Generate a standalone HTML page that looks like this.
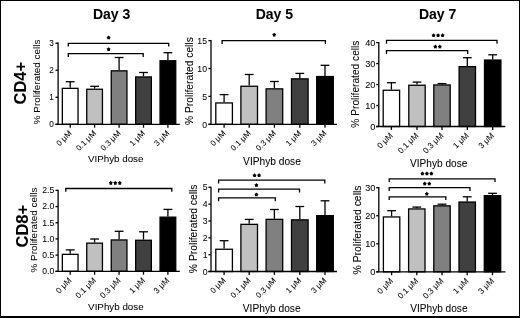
<!DOCTYPE html>
<html><head><meta charset="utf-8"><style>
html,body{margin:0;padding:0;background:#fff;}
body{width:520px;height:318px;overflow:hidden;position:relative;}
svg{position:absolute;left:0;top:0;display:block;filter:blur(0.35px);}
svg text{stroke:#000;stroke-width:0.05px;}
.frame{position:absolute;left:0;top:0;width:518px;height:315px;border:1px solid #000;border-bottom-width:2px;}
</style></head><body>
<svg width="520" height="318" viewBox="0 0 520 318" font-family="'Liberation Sans', sans-serif" fill="#000" stroke="#000" stroke-width="1.30" stroke-linecap="butt">
<line x1="70.20" y1="87.70" x2="70.20" y2="81.70"/>
<line x1="65.80" y1="81.70" x2="74.60" y2="81.70"/>
<rect x="62.35" y="88.35" width="15.70" height="35.95" fill="#ffffff"/>
<line x1="94.60" y1="88.60" x2="94.60" y2="86.30"/>
<line x1="90.20" y1="86.30" x2="99.00" y2="86.30"/>
<rect x="86.75" y="89.25" width="15.70" height="35.05" fill="#c0c0c0"/>
<line x1="119.10" y1="70.20" x2="119.10" y2="57.50"/>
<line x1="114.70" y1="57.50" x2="123.50" y2="57.50"/>
<rect x="111.25" y="70.85" width="15.70" height="53.45" fill="#808080"/>
<line x1="143.50" y1="76.30" x2="143.50" y2="72.50"/>
<line x1="139.10" y1="72.50" x2="147.90" y2="72.50"/>
<rect x="135.65" y="76.95" width="15.70" height="47.35" fill="#404040"/>
<line x1="167.90" y1="60.10" x2="167.90" y2="52.70"/>
<line x1="163.50" y1="52.70" x2="172.30" y2="52.70"/>
<rect x="160.05" y="60.75" width="15.70" height="63.55" fill="#000000"/>
<line x1="58.10" y1="42.55" x2="58.10" y2="124.30"/>
<line x1="55.50" y1="124.30" x2="179.80" y2="124.30"/>
<line x1="55.50" y1="124.30" x2="58.10" y2="124.30"/>
<text x="53.90" y="127.25" font-size="8.2" text-anchor="end" stroke="none">0</text>
<line x1="55.50" y1="97.27" x2="58.10" y2="97.27"/>
<text x="53.90" y="100.22" font-size="8.2" text-anchor="end" stroke="none">1</text>
<line x1="55.50" y1="70.23" x2="58.10" y2="70.23"/>
<text x="53.90" y="73.19" font-size="8.2" text-anchor="end" stroke="none">2</text>
<line x1="55.50" y1="43.20" x2="58.10" y2="43.20"/>
<text x="53.90" y="46.15" font-size="8.2" text-anchor="end" stroke="none">3</text>
<line x1="70.20" y1="124.30" x2="70.20" y2="127.70"/>
<text x="0" y="0" font-size="8.0" text-anchor="end" stroke="none" transform="translate(72.20 133.90) rotate(-45)">0 μM</text>
<line x1="94.60" y1="124.30" x2="94.60" y2="127.70"/>
<text x="0" y="0" font-size="8.0" text-anchor="end" stroke="none" transform="translate(96.60 133.90) rotate(-45)">0.1 μM</text>
<line x1="119.10" y1="124.30" x2="119.10" y2="127.70"/>
<text x="0" y="0" font-size="8.0" text-anchor="end" stroke="none" transform="translate(121.10 133.90) rotate(-45)">0.3 μM</text>
<line x1="143.50" y1="124.30" x2="143.50" y2="127.70"/>
<text x="0" y="0" font-size="8.0" text-anchor="end" stroke="none" transform="translate(145.50 133.90) rotate(-45)">1 μM</text>
<line x1="167.90" y1="124.30" x2="167.90" y2="127.70"/>
<text x="0" y="0" font-size="8.0" text-anchor="end" stroke="none" transform="translate(169.90 133.90) rotate(-45)">3 μM</text>
<polyline fill="none" points="68.30,46.60 68.30,43.30 168.70,43.30 168.70,46.60"/>
<polygon points="108.60,36.45 109.06,36.97 109.69,37.24 109.34,37.84 109.28,38.53 108.60,38.38 107.92,38.53 107.86,37.84 107.51,37.24 108.14,36.97"/>
<polyline fill="none" points="68.30,56.90 68.30,53.60 143.20,53.60 143.20,56.90"/>
<polygon points="108.60,48.15 109.06,48.67 109.69,48.94 109.34,49.54 109.28,50.23 108.60,50.08 107.92,50.23 107.86,49.54 107.51,48.94 108.14,48.67"/>
<text x="111.60" y="19.1" font-size="14" font-weight="bold" text-anchor="middle" stroke="none">Day 3</text>
<text x="115.70" y="162.40" font-size="9.8" text-anchor="middle" stroke="none">VIPhyb dose</text>
<text x="0" y="0" font-size="9.88" text-anchor="middle" stroke="none" transform="translate(40.30 81.90) rotate(-90)">% Proliferated cells</text>
<line x1="224.10" y1="102.30" x2="224.10" y2="94.60"/>
<line x1="219.70" y1="94.60" x2="228.50" y2="94.60"/>
<rect x="215.80" y="102.95" width="16.60" height="21.35" fill="#ffffff"/>
<line x1="249.20" y1="85.60" x2="249.20" y2="74.50"/>
<line x1="244.80" y1="74.50" x2="253.60" y2="74.50"/>
<rect x="240.90" y="86.25" width="16.60" height="38.05" fill="#c0c0c0"/>
<line x1="274.40" y1="88.20" x2="274.40" y2="81.50"/>
<line x1="270.00" y1="81.50" x2="278.80" y2="81.50"/>
<rect x="266.10" y="88.85" width="16.60" height="35.45" fill="#808080"/>
<line x1="299.80" y1="78.20" x2="299.80" y2="73.40"/>
<line x1="295.40" y1="73.40" x2="304.20" y2="73.40"/>
<rect x="291.50" y="78.85" width="16.60" height="45.45" fill="#404040"/>
<line x1="325.00" y1="75.90" x2="325.00" y2="65.30"/>
<line x1="320.60" y1="65.30" x2="329.40" y2="65.30"/>
<rect x="316.70" y="76.55" width="16.60" height="47.75" fill="#000000"/>
<line x1="211.00" y1="39.95" x2="211.00" y2="124.30"/>
<line x1="208.40" y1="124.30" x2="337.00" y2="124.30"/>
<line x1="208.40" y1="124.30" x2="211.00" y2="124.30"/>
<text x="207.00" y="127.73" font-size="8.7" text-anchor="end" stroke="none">0</text>
<line x1="208.40" y1="96.40" x2="211.00" y2="96.40"/>
<text x="207.00" y="99.83" font-size="8.7" text-anchor="end" stroke="none">5</text>
<line x1="208.40" y1="68.50" x2="211.00" y2="68.50"/>
<text x="207.00" y="71.93" font-size="8.7" text-anchor="end" stroke="none">10</text>
<line x1="208.40" y1="40.60" x2="211.00" y2="40.60"/>
<text x="207.00" y="44.03" font-size="8.7" text-anchor="end" stroke="none">15</text>
<line x1="224.10" y1="124.30" x2="224.10" y2="127.70"/>
<text x="0" y="0" font-size="8.0" text-anchor="end" stroke="none" transform="translate(226.10 133.90) rotate(-45)">0 μM</text>
<line x1="249.20" y1="124.30" x2="249.20" y2="127.70"/>
<text x="0" y="0" font-size="8.0" text-anchor="end" stroke="none" transform="translate(251.20 133.90) rotate(-45)">0.1 μM</text>
<line x1="274.40" y1="124.30" x2="274.40" y2="127.70"/>
<text x="0" y="0" font-size="8.0" text-anchor="end" stroke="none" transform="translate(276.40 133.90) rotate(-45)">0.3 μM</text>
<line x1="299.80" y1="124.30" x2="299.80" y2="127.70"/>
<text x="0" y="0" font-size="8.0" text-anchor="end" stroke="none" transform="translate(301.80 133.90) rotate(-45)">1 μM</text>
<line x1="325.00" y1="124.30" x2="325.00" y2="127.70"/>
<text x="0" y="0" font-size="8.0" text-anchor="end" stroke="none" transform="translate(327.00 133.90) rotate(-45)">3 μM</text>
<polyline fill="none" points="222.10,43.90 222.10,40.60 325.40,40.60 325.40,43.90"/>
<polygon points="274.20,33.65 274.66,34.17 275.29,34.44 274.94,35.04 274.88,35.73 274.20,35.58 273.52,35.73 273.46,35.04 273.11,34.44 273.74,34.17"/>
<text x="274.40" y="19.1" font-size="14" font-weight="bold" text-anchor="middle" stroke="none">Day 5</text>
<text x="272.00" y="164.80" font-size="10.2" text-anchor="middle" stroke="none">VIPhyb dose</text>
<text x="0" y="0" font-size="10.25" text-anchor="middle" stroke="none" transform="translate(192.50 81.10) rotate(-90)">% Proliferated cells</text>
<line x1="391.40" y1="89.60" x2="391.40" y2="82.70"/>
<line x1="387.00" y1="82.70" x2="395.80" y2="82.70"/>
<rect x="383.20" y="90.25" width="16.40" height="36.25" fill="#ffffff"/>
<line x1="417.00" y1="84.60" x2="417.00" y2="82.10"/>
<line x1="412.60" y1="82.10" x2="421.40" y2="82.10"/>
<rect x="408.80" y="85.25" width="16.40" height="41.25" fill="#c0c0c0"/>
<line x1="442.00" y1="84.30" x2="442.00" y2="83.60"/>
<line x1="437.60" y1="83.60" x2="446.40" y2="83.60"/>
<rect x="433.80" y="84.95" width="16.40" height="41.55" fill="#808080"/>
<line x1="467.30" y1="66.00" x2="467.30" y2="57.70"/>
<line x1="462.90" y1="57.70" x2="471.70" y2="57.70"/>
<rect x="459.10" y="66.65" width="16.40" height="59.85" fill="#404040"/>
<line x1="492.70" y1="59.40" x2="492.70" y2="54.80"/>
<line x1="488.30" y1="54.80" x2="497.10" y2="54.80"/>
<rect x="484.50" y="60.05" width="16.40" height="66.45" fill="#000000"/>
<line x1="378.80" y1="41.95" x2="378.80" y2="126.50"/>
<line x1="376.20" y1="126.50" x2="505.40" y2="126.50"/>
<line x1="376.20" y1="126.50" x2="378.80" y2="126.50"/>
<text x="375.40" y="129.81" font-size="9.2" text-anchor="end" stroke="none">0</text>
<line x1="376.20" y1="105.53" x2="378.80" y2="105.53"/>
<text x="375.40" y="108.84" font-size="9.2" text-anchor="end" stroke="none">10</text>
<line x1="376.20" y1="84.55" x2="378.80" y2="84.55"/>
<text x="375.40" y="87.86" font-size="9.2" text-anchor="end" stroke="none">20</text>
<line x1="376.20" y1="63.57" x2="378.80" y2="63.57"/>
<text x="375.40" y="66.89" font-size="9.2" text-anchor="end" stroke="none">30</text>
<line x1="376.20" y1="42.60" x2="378.80" y2="42.60"/>
<text x="375.40" y="45.91" font-size="9.2" text-anchor="end" stroke="none">40</text>
<line x1="391.40" y1="126.50" x2="391.40" y2="129.90"/>
<text x="0" y="0" font-size="8.2" text-anchor="end" stroke="none" transform="translate(393.40 136.10) rotate(-45)">0 μM</text>
<line x1="417.00" y1="126.50" x2="417.00" y2="129.90"/>
<text x="0" y="0" font-size="8.2" text-anchor="end" stroke="none" transform="translate(419.00 136.10) rotate(-45)">0.1 μM</text>
<line x1="442.00" y1="126.50" x2="442.00" y2="129.90"/>
<text x="0" y="0" font-size="8.2" text-anchor="end" stroke="none" transform="translate(444.00 136.10) rotate(-45)">0.3 μM</text>
<line x1="467.30" y1="126.50" x2="467.30" y2="129.90"/>
<text x="0" y="0" font-size="8.2" text-anchor="end" stroke="none" transform="translate(469.30 136.10) rotate(-45)">1 μM</text>
<line x1="492.70" y1="126.50" x2="492.70" y2="129.90"/>
<text x="0" y="0" font-size="8.2" text-anchor="end" stroke="none" transform="translate(494.70 136.10) rotate(-45)">3 μM</text>
<polyline fill="none" points="386.50,43.70 386.50,40.40 497.00,40.40 497.00,43.70"/>
<polygon points="433.60,34.25 434.06,34.77 434.69,35.04 434.34,35.64 434.28,36.33 433.60,36.18 432.92,36.33 432.86,35.64 432.51,35.04 433.14,34.77"/>
<polygon points="438.10,34.25 438.56,34.77 439.19,35.04 438.84,35.64 438.78,36.33 438.10,36.18 437.42,36.33 437.36,35.64 437.01,35.04 437.64,34.77"/>
<polygon points="442.60,34.25 443.06,34.77 443.69,35.04 443.34,35.64 443.28,36.33 442.60,36.18 441.92,36.33 441.86,35.64 441.51,35.04 442.14,34.77"/>
<polyline fill="none" points="386.50,54.00 386.50,50.70 467.70,50.70 467.70,54.00"/>
<polygon points="435.35,45.55 435.81,46.07 436.44,46.34 436.09,46.94 436.03,47.63 435.35,47.48 434.67,47.63 434.61,46.94 434.26,46.34 434.89,46.07"/>
<polygon points="439.85,45.55 440.31,46.07 440.94,46.34 440.59,46.94 440.53,47.63 439.85,47.48 439.17,47.63 439.11,46.94 438.76,46.34 439.39,46.07"/>
<text x="437.60" y="19.1" font-size="14" font-weight="bold" text-anchor="middle" stroke="none">Day 7</text>
<text x="438.70" y="167.40" font-size="10.1" text-anchor="middle" stroke="none">VIPhyb dose</text>
<text x="0" y="0" font-size="10.18" text-anchor="middle" stroke="none" transform="translate(358.90 84.10) rotate(-90)">% Proliferated cells</text>
<line x1="70.20" y1="253.70" x2="70.20" y2="249.90"/>
<line x1="65.80" y1="249.90" x2="74.60" y2="249.90"/>
<rect x="62.35" y="254.35" width="15.70" height="16.95" fill="#ffffff"/>
<line x1="94.60" y1="242.50" x2="94.60" y2="239.00"/>
<line x1="90.20" y1="239.00" x2="99.00" y2="239.00"/>
<rect x="86.75" y="243.15" width="15.70" height="28.15" fill="#c0c0c0"/>
<line x1="119.10" y1="239.30" x2="119.10" y2="231.30"/>
<line x1="114.70" y1="231.30" x2="123.50" y2="231.30"/>
<rect x="111.25" y="239.95" width="15.70" height="31.35" fill="#808080"/>
<line x1="143.50" y1="239.60" x2="143.50" y2="231.80"/>
<line x1="139.10" y1="231.80" x2="147.90" y2="231.80"/>
<rect x="135.65" y="240.25" width="15.70" height="31.05" fill="#404040"/>
<line x1="167.90" y1="216.50" x2="167.90" y2="209.40"/>
<line x1="163.50" y1="209.40" x2="172.30" y2="209.40"/>
<rect x="160.05" y="217.15" width="15.70" height="54.15" fill="#000000"/>
<line x1="58.10" y1="189.75" x2="58.10" y2="271.30"/>
<line x1="55.50" y1="271.30" x2="179.80" y2="271.30"/>
<line x1="55.50" y1="271.30" x2="58.10" y2="271.30"/>
<text x="54.30" y="274.13" font-size="8.7" text-anchor="end" stroke="none">0.0</text>
<line x1="55.50" y1="255.12" x2="58.10" y2="255.12"/>
<text x="54.30" y="257.95" font-size="8.7" text-anchor="end" stroke="none">0.5</text>
<line x1="55.50" y1="238.94" x2="58.10" y2="238.94"/>
<text x="54.30" y="241.77" font-size="8.7" text-anchor="end" stroke="none">1.0</text>
<line x1="55.50" y1="222.76" x2="58.10" y2="222.76"/>
<text x="54.30" y="225.59" font-size="8.7" text-anchor="end" stroke="none">1.5</text>
<line x1="55.50" y1="206.58" x2="58.10" y2="206.58"/>
<text x="54.30" y="209.41" font-size="8.7" text-anchor="end" stroke="none">2.0</text>
<line x1="55.50" y1="190.40" x2="58.10" y2="190.40"/>
<text x="54.30" y="193.23" font-size="8.7" text-anchor="end" stroke="none">2.5</text>
<line x1="70.20" y1="271.30" x2="70.20" y2="274.70"/>
<text x="0" y="0" font-size="8.2" text-anchor="end" stroke="none" transform="translate(72.20 280.90) rotate(-45)">0 μM</text>
<line x1="94.60" y1="271.30" x2="94.60" y2="274.70"/>
<text x="0" y="0" font-size="8.2" text-anchor="end" stroke="none" transform="translate(96.60 280.90) rotate(-45)">0.1 μM</text>
<line x1="119.10" y1="271.30" x2="119.10" y2="274.70"/>
<text x="0" y="0" font-size="8.2" text-anchor="end" stroke="none" transform="translate(121.10 280.90) rotate(-45)">0.3 μM</text>
<line x1="143.50" y1="271.30" x2="143.50" y2="274.70"/>
<text x="0" y="0" font-size="8.2" text-anchor="end" stroke="none" transform="translate(145.50 280.90) rotate(-45)">1 μM</text>
<line x1="167.90" y1="271.30" x2="167.90" y2="274.70"/>
<text x="0" y="0" font-size="8.2" text-anchor="end" stroke="none" transform="translate(169.90 280.90) rotate(-45)">3 μM</text>
<polyline fill="none" points="65.80,191.80 65.80,188.50 171.80,188.50 171.80,191.80"/>
<polygon points="110.80,181.85 111.26,182.37 111.89,182.64 111.54,183.24 111.48,183.93 110.80,183.78 110.12,183.93 110.06,183.24 109.71,182.64 110.34,182.37"/>
<polygon points="115.30,181.85 115.76,182.37 116.39,182.64 116.04,183.24 115.98,183.93 115.30,183.78 114.62,183.93 114.56,183.24 114.21,182.64 114.84,182.37"/>
<polygon points="119.80,181.85 120.26,182.37 120.89,182.64 120.54,183.24 120.48,183.93 119.80,183.78 119.12,183.93 119.06,183.24 118.71,182.64 119.34,182.37"/>
<text x="115.90" y="309.80" font-size="9.8" text-anchor="middle" stroke="none">VIPhyb dose</text>
<text x="0" y="0" font-size="9.93" text-anchor="middle" stroke="none" transform="translate(36.60 230.10) rotate(-90)">% Proliferated cells</text>
<line x1="224.10" y1="248.60" x2="224.10" y2="240.70"/>
<line x1="219.70" y1="240.70" x2="228.50" y2="240.70"/>
<rect x="215.80" y="249.25" width="16.60" height="22.25" fill="#ffffff"/>
<line x1="249.20" y1="223.70" x2="249.20" y2="219.40"/>
<line x1="244.80" y1="219.40" x2="253.60" y2="219.40"/>
<rect x="240.90" y="224.35" width="16.60" height="47.15" fill="#c0c0c0"/>
<line x1="274.40" y1="218.70" x2="274.40" y2="209.50"/>
<line x1="270.00" y1="209.50" x2="278.80" y2="209.50"/>
<rect x="266.10" y="219.35" width="16.60" height="52.15" fill="#808080"/>
<line x1="299.80" y1="219.20" x2="299.80" y2="206.50"/>
<line x1="295.40" y1="206.50" x2="304.20" y2="206.50"/>
<rect x="291.50" y="219.85" width="16.60" height="51.65" fill="#404040"/>
<line x1="325.00" y1="215.00" x2="325.00" y2="200.80"/>
<line x1="320.60" y1="200.80" x2="329.40" y2="200.80"/>
<rect x="316.70" y="215.65" width="16.60" height="55.85" fill="#000000"/>
<line x1="211.00" y1="186.65" x2="211.00" y2="271.50"/>
<line x1="208.40" y1="271.50" x2="337.00" y2="271.50"/>
<line x1="208.40" y1="271.50" x2="211.00" y2="271.50"/>
<text x="207.60" y="274.63" font-size="8.7" text-anchor="end" stroke="none">0</text>
<line x1="208.40" y1="254.66" x2="211.00" y2="254.66"/>
<text x="207.60" y="257.79" font-size="8.7" text-anchor="end" stroke="none">1</text>
<line x1="208.40" y1="237.82" x2="211.00" y2="237.82"/>
<text x="207.60" y="240.95" font-size="8.7" text-anchor="end" stroke="none">2</text>
<line x1="208.40" y1="220.98" x2="211.00" y2="220.98"/>
<text x="207.60" y="224.11" font-size="8.7" text-anchor="end" stroke="none">3</text>
<line x1="208.40" y1="204.14" x2="211.00" y2="204.14"/>
<text x="207.60" y="207.27" font-size="8.7" text-anchor="end" stroke="none">4</text>
<line x1="208.40" y1="187.30" x2="211.00" y2="187.30"/>
<text x="207.60" y="190.43" font-size="8.7" text-anchor="end" stroke="none">5</text>
<line x1="224.10" y1="271.50" x2="224.10" y2="274.90"/>
<text x="0" y="0" font-size="8.0" text-anchor="end" stroke="none" transform="translate(226.10 281.10) rotate(-45)">0 μM</text>
<line x1="249.20" y1="271.50" x2="249.20" y2="274.90"/>
<text x="0" y="0" font-size="8.0" text-anchor="end" stroke="none" transform="translate(251.20 281.10) rotate(-45)">0.1 μM</text>
<line x1="274.40" y1="271.50" x2="274.40" y2="274.90"/>
<text x="0" y="0" font-size="8.0" text-anchor="end" stroke="none" transform="translate(276.40 281.10) rotate(-45)">0.3 μM</text>
<line x1="299.80" y1="271.50" x2="299.80" y2="274.90"/>
<text x="0" y="0" font-size="8.0" text-anchor="end" stroke="none" transform="translate(301.80 281.10) rotate(-45)">1 μM</text>
<line x1="325.00" y1="271.50" x2="325.00" y2="274.90"/>
<text x="0" y="0" font-size="8.0" text-anchor="end" stroke="none" transform="translate(327.00 281.10) rotate(-45)">3 μM</text>
<polyline fill="none" points="218.60,183.40 218.60,180.10 324.80,180.10 324.80,183.40"/>
<polygon points="254.55,174.25 255.01,174.77 255.64,175.04 255.29,175.64 255.23,176.33 254.55,176.18 253.87,176.33 253.81,175.64 253.46,175.04 254.09,174.77"/>
<polygon points="259.05,174.25 259.51,174.77 260.14,175.04 259.79,175.64 259.73,176.33 259.05,176.18 258.37,176.33 258.31,175.64 257.96,175.04 258.59,174.77"/>
<polyline fill="none" points="218.60,192.40 218.60,189.10 299.50,189.10 299.50,192.40"/>
<polygon points="256.40,184.05 256.86,184.57 257.49,184.84 257.14,185.44 257.08,186.13 256.40,185.98 255.72,186.13 255.66,185.44 255.31,184.84 255.94,184.57"/>
<polyline fill="none" points="218.60,201.20 218.60,197.90 275.30,197.90 275.30,201.20"/>
<polygon points="256.40,193.45 256.86,193.97 257.49,194.24 257.14,194.84 257.08,195.53 256.40,195.38 255.72,195.53 255.66,194.84 255.31,194.24 255.94,193.97"/>
<text x="271.70" y="312.20" font-size="10.2" text-anchor="middle" stroke="none">VIPhyb dose</text>
<text x="0" y="0" font-size="10.37" text-anchor="middle" stroke="none" transform="translate(197.00 228.80) rotate(-90)">% Proliferated cells</text>
<line x1="391.60" y1="216.30" x2="391.60" y2="210.70"/>
<line x1="387.20" y1="210.70" x2="396.00" y2="210.70"/>
<rect x="383.40" y="216.95" width="16.40" height="54.85" fill="#ffffff"/>
<line x1="416.80" y1="208.30" x2="416.80" y2="207.10"/>
<line x1="412.40" y1="207.10" x2="421.20" y2="207.10"/>
<rect x="408.60" y="208.95" width="16.40" height="62.85" fill="#c0c0c0"/>
<line x1="442.00" y1="205.20" x2="442.00" y2="204.20"/>
<line x1="437.60" y1="204.20" x2="446.40" y2="204.20"/>
<rect x="433.80" y="205.85" width="16.40" height="65.95" fill="#808080"/>
<line x1="467.20" y1="201.40" x2="467.20" y2="196.80"/>
<line x1="462.80" y1="196.80" x2="471.60" y2="196.80"/>
<rect x="459.00" y="202.05" width="16.40" height="69.75" fill="#404040"/>
<line x1="492.50" y1="195.00" x2="492.50" y2="193.30"/>
<line x1="488.10" y1="193.30" x2="496.90" y2="193.30"/>
<rect x="484.30" y="195.65" width="16.40" height="76.15" fill="#000000"/>
<line x1="378.80" y1="187.05" x2="378.80" y2="271.80"/>
<line x1="376.20" y1="271.80" x2="505.40" y2="271.80"/>
<line x1="376.20" y1="271.80" x2="378.80" y2="271.80"/>
<text x="375.40" y="275.11" font-size="9.2" text-anchor="end" stroke="none">0</text>
<line x1="376.20" y1="243.77" x2="378.80" y2="243.77"/>
<text x="375.40" y="247.08" font-size="9.2" text-anchor="end" stroke="none">10</text>
<line x1="376.20" y1="215.73" x2="378.80" y2="215.73"/>
<text x="375.40" y="219.05" font-size="9.2" text-anchor="end" stroke="none">20</text>
<line x1="376.20" y1="187.70" x2="378.80" y2="187.70"/>
<text x="375.40" y="191.01" font-size="9.2" text-anchor="end" stroke="none">30</text>
<line x1="391.60" y1="271.80" x2="391.60" y2="275.20"/>
<text x="0" y="0" font-size="8.2" text-anchor="end" stroke="none" transform="translate(393.60 281.40) rotate(-45)">0 μM</text>
<line x1="416.80" y1="271.80" x2="416.80" y2="275.20"/>
<text x="0" y="0" font-size="8.2" text-anchor="end" stroke="none" transform="translate(418.80 281.40) rotate(-45)">0.1 μM</text>
<line x1="442.00" y1="271.80" x2="442.00" y2="275.20"/>
<text x="0" y="0" font-size="8.2" text-anchor="end" stroke="none" transform="translate(444.00 281.40) rotate(-45)">0.3 μM</text>
<line x1="467.20" y1="271.80" x2="467.20" y2="275.20"/>
<text x="0" y="0" font-size="8.2" text-anchor="end" stroke="none" transform="translate(469.20 281.40) rotate(-45)">1 μM</text>
<line x1="492.50" y1="271.80" x2="492.50" y2="275.20"/>
<text x="0" y="0" font-size="8.2" text-anchor="end" stroke="none" transform="translate(494.50 281.40) rotate(-45)">3 μM</text>
<polyline fill="none" points="389.20,182.10 389.20,178.80 495.00,178.80 495.00,182.10"/>
<polygon points="422.40,172.45 422.86,172.97 423.49,173.24 423.14,173.84 423.08,174.53 422.40,174.38 421.72,174.53 421.66,173.84 421.31,173.24 421.94,172.97"/>
<polygon points="426.90,172.45 427.36,172.97 427.99,173.24 427.64,173.84 427.58,174.53 426.90,174.38 426.22,174.53 426.16,173.84 425.81,173.24 426.44,172.97"/>
<polygon points="431.40,172.45 431.86,172.97 432.49,173.24 432.14,173.84 432.08,174.53 431.40,174.38 430.72,174.53 430.66,173.84 430.31,173.24 430.94,172.97"/>
<polyline fill="none" points="389.20,190.90 389.20,187.60 470.00,187.60 470.00,190.90"/>
<polygon points="424.75,182.55 425.21,183.07 425.84,183.34 425.49,183.94 425.43,184.63 424.75,184.48 424.07,184.63 424.01,183.94 423.66,183.34 424.29,183.07"/>
<polygon points="429.25,182.55 429.71,183.07 430.34,183.34 429.99,183.94 429.93,184.63 429.25,184.48 428.57,184.63 428.51,183.94 428.16,183.34 428.79,183.07"/>
<polyline fill="none" points="389.20,200.10 389.20,196.80 445.80,196.80 445.80,200.10"/>
<polygon points="426.80,192.75 427.26,193.27 427.89,193.54 427.54,194.14 427.48,194.83 426.80,194.68 426.12,194.83 426.06,194.14 425.71,193.54 426.34,193.27"/>
<text x="438.90" y="311.80" font-size="10.1" text-anchor="middle" stroke="none">VIPhyb dose</text>
<text x="0" y="0" font-size="10.40" text-anchor="middle" stroke="none" transform="translate(361.40 230.00) rotate(-90)">% Proliferated cells</text>
<text x="0" y="0" font-size="16.5" font-weight="bold" text-anchor="middle" stroke="none" transform="translate(26.0 83.2) rotate(-90)">CD4+</text>
<text x="0" y="0" font-size="16.5" font-weight="bold" text-anchor="middle" stroke="none" transform="translate(27.5 226.2) rotate(-90)">CD8+</text>
</svg>
<div class="frame"></div>
</body></html>
